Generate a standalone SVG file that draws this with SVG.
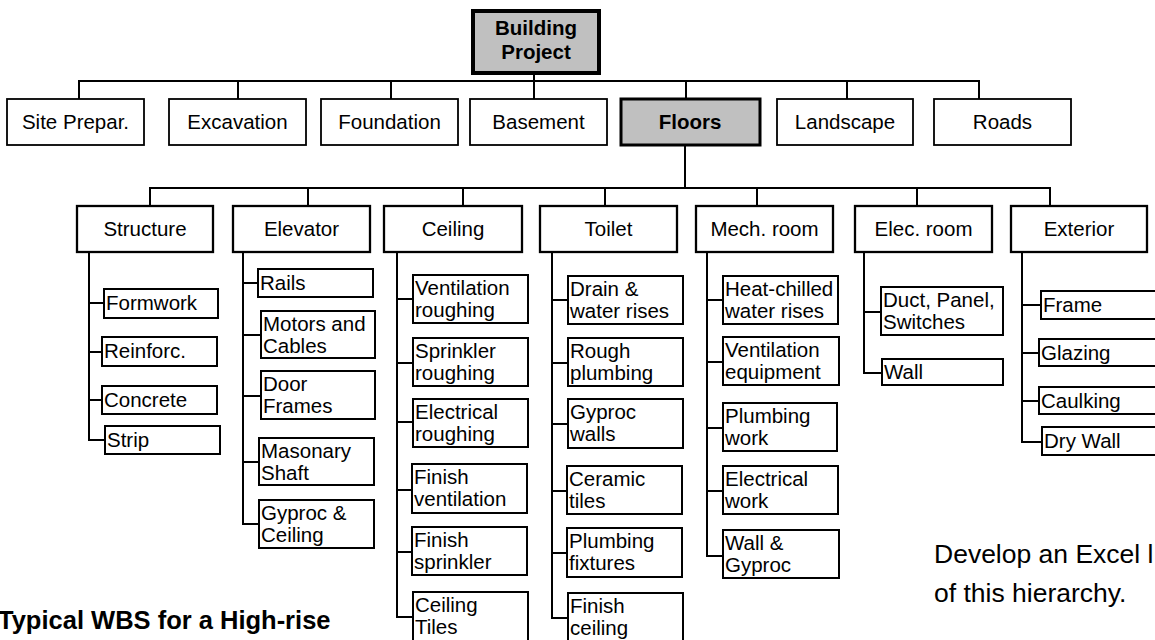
<svg xmlns="http://www.w3.org/2000/svg" width="1155" height="640" viewBox="0 0 1155 640">
  <style>
    text { font-family: "Liberation Sans", Arial, sans-serif; fill: #000; }
    .box { fill: #fff; stroke: #000; stroke-width: 1.8; }
    .l2 { fill: #fff; stroke: #000; stroke-width: 2.3; }
    .leaf { fill: #fff; stroke: #000; stroke-width: 2; }
    .key { fill: #c0c0c0; stroke: #000; }
    .t1 { font-size: 20.5px; text-anchor: middle; }
    .tb { font-size: 20.5px; font-weight: bold; text-anchor: middle; }
    .tl { font-size: 20.5px; }
    .note { font-size: 26.5px; }
    #connectors line { stroke: #000; stroke-width: 2; }
  </style>

  <!-- connector lines -->
  <g id="connectors">
    <!-- level 1 bus -->
    <line x1="79" y1="81" x2="980" y2="81"/>
    <line x1="534" y1="73" x2="534" y2="99"/>
    <line x1="79" y1="80" x2="79" y2="101"/>
    <line x1="238" y1="80" x2="238" y2="99"/>
    <line x1="391" y1="80" x2="391" y2="99"/>
    <line x1="686" y1="80" x2="686" y2="99"/>
    <line x1="847" y1="80" x2="847" y2="99"/>
    <line x1="979" y1="80" x2="979" y2="99"/>
    <!-- floors to level 2 bus -->
    <line x1="685" y1="145" x2="685" y2="188"/>
    <line x1="149" y1="188" x2="1051" y2="188"/>
    <line x1="150" y1="187" x2="150" y2="206"/>
    <line x1="308" y1="187" x2="308" y2="206"/>
    <line x1="463" y1="187" x2="463" y2="206"/>
    <line x1="605" y1="187" x2="605" y2="206"/>
    <line x1="757" y1="187" x2="757" y2="206"/>
    <line x1="917" y1="187" x2="917" y2="206"/>
    <line x1="1050" y1="187" x2="1050" y2="206"/>
    <!-- structure spine -->
    <line x1="89" y1="252" x2="89" y2="441"/>
    <line x1="88" y1="303" x2="104" y2="303"/>
    <line x1="88" y1="352" x2="102" y2="352"/>
    <line x1="88" y1="400" x2="102" y2="400"/>
    <line x1="88" y1="440" x2="105" y2="440"/>
    <!-- elevator spine -->
    <line x1="243" y1="252" x2="243" y2="525"/>
    <line x1="242" y1="283" x2="258" y2="283"/>
    <line x1="242" y1="335" x2="261" y2="335"/>
    <line x1="242" y1="396" x2="261" y2="396"/>
    <line x1="242" y1="462" x2="259" y2="462"/>
    <line x1="242" y1="524" x2="259" y2="524"/>
    <!-- ceiling spine -->
    <line x1="397" y1="252" x2="397" y2="618"/>
    <line x1="396" y1="299" x2="413" y2="299"/>
    <line x1="396" y1="363" x2="413" y2="363"/>
    <line x1="396" y1="422" x2="413" y2="422"/>
    <line x1="396" y1="490" x2="412" y2="490"/>
    <line x1="396" y1="552" x2="412" y2="552"/>
    <line x1="396" y1="617" x2="413" y2="617"/>
    <!-- toilet spine -->
    <line x1="552" y1="252" x2="552" y2="619"/>
    <line x1="551" y1="300" x2="568" y2="300"/>
    <line x1="551" y1="363" x2="568" y2="363"/>
    <line x1="551" y1="424" x2="568" y2="424"/>
    <line x1="551" y1="491" x2="567" y2="491"/>
    <line x1="551" y1="553" x2="567" y2="553"/>
    <line x1="551" y1="618" x2="568" y2="618"/>
    <!-- mech. room spine -->
    <line x1="707" y1="252" x2="707" y2="557"/>
    <line x1="706" y1="300" x2="723" y2="300"/>
    <line x1="706" y1="362" x2="723" y2="362"/>
    <line x1="706" y1="428" x2="723" y2="428"/>
    <line x1="706" y1="491" x2="723" y2="491"/>
    <line x1="706" y1="556" x2="723" y2="556"/>
    <!-- elec. room spine -->
    <line x1="864" y1="252" x2="864" y2="374"/>
    <line x1="863" y1="312" x2="881" y2="312"/>
    <line x1="863" y1="373" x2="882" y2="373"/>
    <!-- exterior spine -->
    <line x1="1022" y1="252" x2="1022" y2="443"/>
    <line x1="1021" y1="305" x2="1041" y2="305"/>
    <line x1="1021" y1="353" x2="1039" y2="353"/>
    <line x1="1021" y1="401" x2="1039" y2="401"/>
    <line x1="1021" y1="442" x2="1042" y2="442"/>
  </g>

  <!-- root -->
  <g id="building-project">
    <rect class="key" x="473" y="11" width="126" height="62" stroke-width="4"/>
    <text class="tb" x="536" y="35">Building</text>
    <text class="tb" x="536" y="59">Project</text>
  </g>

  <!-- level 1 -->
  <g id="site-prepar">
    <rect class="box" x="7" y="99" width="137" height="46"/>
    <text class="t1" x="75.5" y="129">Site Prepar.</text>
  </g>
  <g id="excavation">
    <rect class="box" x="169" y="99" width="137" height="46"/>
    <text class="t1" x="237.5" y="129">Excavation</text>
  </g>
  <g id="foundation">
    <rect class="box" x="321" y="99" width="137" height="46"/>
    <text class="t1" x="389.5" y="129">Foundation</text>
  </g>
  <g id="basement">
    <rect class="box" x="470" y="99" width="137" height="46"/>
    <text class="t1" x="538.5" y="129">Basement</text>
  </g>
  <g id="floors">
    <rect class="key" x="621" y="99" width="139" height="46" stroke-width="3"/>
    <text class="tb" x="690" y="129">Floors</text>
  </g>
  <g id="landscape">
    <rect class="box" x="777" y="99" width="136" height="46"/>
    <text class="t1" x="845" y="129">Landscape</text>
  </g>
  <g id="roads">
    <rect class="box" x="934" y="99" width="137" height="46"/>
    <text class="t1" x="1002.5" y="129">Roads</text>
  </g>

  <!-- level 2 -->
  <g id="structure">
    <rect class="l2" x="77" y="206" width="136" height="46"/>
    <text class="t1" x="145" y="236">Structure</text>
  </g>
  <g id="elevator">
    <rect class="l2" x="233" y="206" width="137" height="46"/>
    <text class="t1" x="301.5" y="236">Elevator</text>
  </g>
  <g id="ceiling">
    <rect class="l2" x="384" y="206" width="138" height="46"/>
    <text class="t1" x="453" y="236">Ceiling</text>
  </g>
  <g id="toilet">
    <rect class="l2" x="540" y="206" width="137" height="46"/>
    <text class="t1" x="608.5" y="236">Toilet</text>
  </g>
  <g id="mech-room">
    <rect class="l2" x="696" y="206" width="137" height="46"/>
    <text class="t1" x="764.5" y="236">Mech. room</text>
  </g>
  <g id="elec-room">
    <rect class="l2" x="855" y="206" width="137" height="46"/>
    <text class="t1" x="923.5" y="236">Elec. room</text>
  </g>
  <g id="exterior">
    <rect class="l2" x="1011" y="206" width="136" height="46"/>
    <text class="t1" x="1079" y="236">Exterior</text>
  </g>

  <!-- structure work packages -->
  <g id="formwork"><rect class="leaf" x="104" y="289" width="114" height="29"/><text class="tl" x="106" y="310">Formwork</text></g>
  <g id="reinforc"><rect class="leaf" x="102" y="337" width="115" height="29"/><text class="tl" x="104" y="358">Reinforc.</text></g>
  <g id="concrete"><rect class="leaf" x="102" y="386" width="115" height="28"/><text class="tl" x="104" y="407">Concrete</text></g>
  <g id="strip"><rect class="leaf" x="105" y="426" width="115" height="28"/><text class="tl" x="107" y="447">Strip</text></g>

  <!-- elevator work packages -->
  <g id="rails"><rect class="leaf" x="258" y="269" width="115" height="28"/><text class="tl" x="260" y="290">Rails</text></g>
  <g id="motors-cables"><rect class="leaf" x="261" y="311" width="114" height="47"/><text class="tl" x="263" y="331">Motors and</text><text class="tl" x="263" y="353">Cables</text></g>
  <g id="door-frames"><rect class="leaf" x="261" y="371" width="114" height="48"/><text class="tl" x="263" y="391">Door</text><text class="tl" x="263" y="413">Frames</text></g>
  <g id="masonary-shaft"><rect class="leaf" x="259" y="438" width="115" height="47"/><text class="tl" x="261" y="458">Masonary</text><text class="tl" x="261" y="480">Shaft</text></g>
  <g id="gyproc-ceiling"><rect class="leaf" x="259" y="500" width="115" height="48"/><text class="tl" x="261" y="520">Gyproc &amp;</text><text class="tl" x="261" y="542">Ceiling</text></g>

  <!-- ceiling work packages -->
  <g id="ventilation-roughing"><rect class="leaf" x="413" y="275" width="115" height="48"/><text class="tl" x="415" y="295">Ventilation</text><text class="tl" x="415" y="317">roughing</text></g>
  <g id="sprinkler-roughing"><rect class="leaf" x="413" y="338" width="115" height="48"/><text class="tl" x="415" y="358">Sprinkler</text><text class="tl" x="415" y="380">roughing</text></g>
  <g id="electrical-roughing"><rect class="leaf" x="413" y="399" width="115" height="48"/><text class="tl" x="415" y="419">Electrical</text><text class="tl" x="415" y="441">roughing</text></g>
  <g id="finish-ventilation"><rect class="leaf" x="412" y="464" width="115" height="49"/><text class="tl" x="414" y="484">Finish</text><text class="tl" x="414" y="506">ventilation</text></g>
  <g id="finish-sprinkler"><rect class="leaf" x="412" y="527" width="115" height="48"/><text class="tl" x="414" y="547">Finish</text><text class="tl" x="414" y="569">sprinkler</text></g>
  <g id="ceiling-tiles"><rect class="leaf" x="413" y="592" width="115" height="49"/><text class="tl" x="415" y="612">Ceiling</text><text class="tl" x="415" y="634">Tiles</text></g>

  <!-- toilet work packages -->
  <g id="drain-water-rises"><rect class="leaf" x="568" y="276" width="115" height="48"/><text class="tl" x="570" y="296">Drain &amp;</text><text class="tl" x="570" y="318">water rises</text></g>
  <g id="rough-plumbing"><rect class="leaf" x="568" y="338" width="115" height="48"/><text class="tl" x="570" y="358">Rough</text><text class="tl" x="570" y="380">plumbing</text></g>
  <g id="gyproc-walls"><rect class="leaf" x="568" y="399" width="115" height="49"/><text class="tl" x="570" y="419">Gyproc</text><text class="tl" x="570" y="441">walls</text></g>
  <g id="ceramic-tiles"><rect class="leaf" x="567" y="466" width="115" height="48"/><text class="tl" x="569" y="486">Ceramic</text><text class="tl" x="569" y="508">tiles</text></g>
  <g id="plumbing-fixtures"><rect class="leaf" x="567" y="528" width="115" height="49"/><text class="tl" x="569" y="548">Plumbing</text><text class="tl" x="569" y="570">fixtures</text></g>
  <g id="finish-ceiling"><rect class="leaf" x="568" y="593" width="115" height="48"/><text class="tl" x="570" y="613">Finish</text><text class="tl" x="570" y="635">ceiling</text></g>

  <!-- mech. room work packages -->
  <g id="heat-chilled-water"><rect class="leaf" x="723" y="276" width="115" height="48"/><text class="tl" x="725" y="296">Heat-chilled</text><text class="tl" x="725" y="318">water rises</text></g>
  <g id="ventilation-equipment"><rect class="leaf" x="723" y="337" width="116" height="48"/><text class="tl" x="725" y="357">Ventilation</text><text class="tl" x="725" y="379">equipment</text></g>
  <g id="plumbing-work"><rect class="leaf" x="723" y="403" width="114" height="48"/><text class="tl" x="725" y="423">Plumbing</text><text class="tl" x="725" y="445">work</text></g>
  <g id="electrical-work"><rect class="leaf" x="723" y="466" width="115" height="48"/><text class="tl" x="725" y="486">Electrical</text><text class="tl" x="725" y="508">work</text></g>
  <g id="wall-gyproc"><rect class="leaf" x="723" y="530" width="116" height="48"/><text class="tl" x="725" y="550">Wall &amp;</text><text class="tl" x="725" y="572">Gyproc</text></g>

  <!-- elec. room work packages -->
  <g id="duct-panel-switches"><rect class="leaf" x="881" y="287" width="122" height="48"/><text class="tl" x="883" y="307">Duct, Panel,</text><text class="tl" x="883" y="329">Switches</text></g>
  <g id="wall"><rect class="leaf" x="882" y="359" width="121" height="26"/><text class="tl" x="884" y="379">Wall</text></g>

  <!-- exterior work packages -->
  <g id="frame"><rect class="leaf" x="1041" y="291" width="116" height="28"/><text class="tl" x="1043" y="312">Frame</text></g>
  <g id="glazing"><rect class="leaf" x="1039" y="339" width="118" height="27"/><text class="tl" x="1041" y="360">Glazing</text></g>
  <g id="caulking"><rect class="leaf" x="1039" y="387" width="118" height="27"/><text class="tl" x="1041" y="408">Caulking</text></g>
  <g id="dry-wall"><rect class="leaf" x="1042" y="427" width="116" height="28"/><text class="tl" x="1044" y="448">Dry Wall</text></g>

  <!-- captions -->
  <text x="-2" y="629" font-size="25.5" font-weight="bold">Typical WBS for a High-rise</text>
  <text class="note" x="934" y="563">Develop an Excel l</text>
  <text class="note" x="934" y="602">of this hierarchy.</text>
</svg>
